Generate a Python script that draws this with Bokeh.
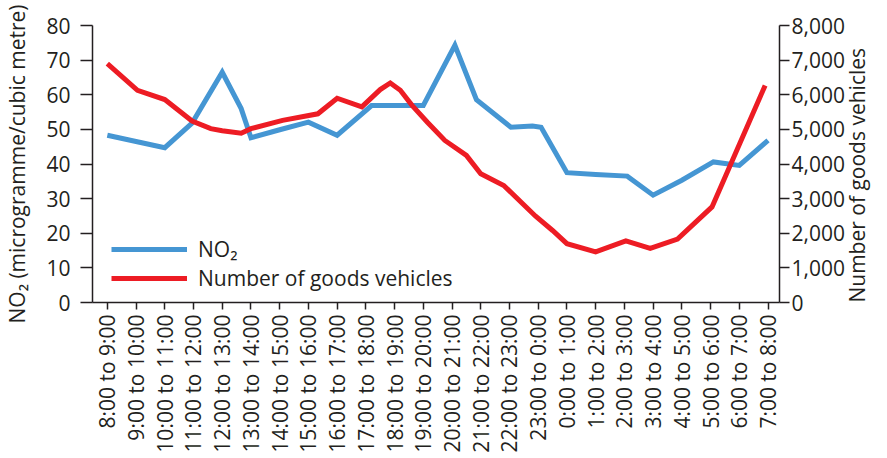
import math
from bokeh.plotting import figure
from bokeh.models import (Range1d, LinearAxis, FixedTicker, NumeralTickFormatter,
                          Legend, LegendItem)
from bokeh.embed import file_html
from bokeh.resources import INLINE

periods = ["8:00 to 9:00", "9:00 to 10:00", "10:00 to 11:00", "11:00 to 12:00",
           "12:00 to 13:00", "13:00 to 14:00", "14:00 to 15:00", "15:00 to 16:00",
           "16:00 to 17:00", "17:00 to 18:00", "18:00 to 19:00", "19:00 to 20:00",
           "20:00 to 21:00", "21:00 to 22:00", "22:00 to 23:00", "23:00 to 0:00",
           "0:00 to 1:00", "1:00 to 2:00", "2:00 to 3:00", "3:00 to 4:00",
           "4:00 to 5:00", "5:00 to 6:00", "6:00 to 7:00", "7:00 to 8:00"]

# NO2 (microgramme / cubic metre); positions in hour-slot index units
no2_pos = [0, 1, 2, 2.95, 4, 4.66, 5, 6, 7, 8, 9.2, 11, 12.1, 12.85, 14.05, 14.8,
           15.1, 16, 17, 18.1, 19, 20, 21.1, 22, 23]
no2_val = [48.3, 46.5, 44.7, 51.8, 66.5, 56.0, 47.6, 49.9, 52.1, 48.3, 56.9, 56.9,
           74.3, 58.6, 50.6, 51.0, 50.6, 37.5, 37.0, 36.5, 31.0, 35.3, 40.6, 39.6, 46.8]

# Number of goods vehicles
goods_pos = [0, 1.05, 2, 2.95, 3.6, 4, 4.66, 5, 6.1, 7.33, 8, 8.86, 9.5, 9.85, 10.2,
             10.6, 11.15, 11.75, 12.5, 13, 13.8, 14.9, 15.5, 16, 17, 18.05, 18.9,
             19.85, 21.05, 22.9]
goods_val = [6900, 6130, 5860, 5240, 5020, 4960, 4890, 5020, 5260, 5450, 5900, 5650,
             6150, 6340, 6130, 5700, 5200, 4680, 4250, 3720, 3380, 2500, 2080, 1700,
             1460, 1780, 1560, 1830, 2760, 6270]

left_ticks = [0, 10, 20, 30, 40, 50, 60, 70, 80]
right_ticks = [0, 1000, 2000, 3000, 4000, 5000, 6000, 7000, 8000]

FONT = "Open Sans"
TXT = "#231f20"
BLUE = "#4596d3"
RED = "#ed1c24"

p = figure(width=887, height=458, output_backend="svg", toolbar_location=None,
           x_range=Range1d(-0.516, 23.4), y_range=Range1d(0, 80),
           min_border_left=90, min_border_right=95, min_border_top=25,
           min_border_bottom=156)
p.extra_y_ranges = {"goods": Range1d(0, 8000)}
p.outline_line_color = None
p.xgrid.visible = False
p.ygrid.visible = False
p.background_fill_color = "white"
p.border_fill_color = "white"

r1 = p.line(no2_pos, no2_val, line_color=BLUE, line_width=5, line_join="miter")
r2 = p.line(goods_pos, goods_val, line_color=RED, line_width=5, line_join="miter",
            y_range_name="goods")

# x axis
xa = p.xaxis[0]
xa.ticker = FixedTicker(ticks=list(range(len(periods))))
xa.major_label_overrides = {i: lab for i, lab in enumerate(periods)}
xa.major_label_orientation = math.pi / 2
xa.major_tick_out = 7
xa.major_tick_in = 0
xa.minor_tick_line_color = None
xa.major_label_standoff = 5

# left axis
ya = p.yaxis[0]
ya.ticker = FixedTicker(ticks=left_ticks)
ya.major_tick_out = 12
ya.major_tick_in = 0
ya.minor_tick_line_color = None
ya.major_label_standoff = 10
ya.axis_label = "NO\u2082 (microgramme/cubic metre)"
ya.axis_label_standoff = 12

# right axis
ra = LinearAxis(y_range_name="goods", ticker=FixedTicker(ticks=right_ticks),
                formatter=NumeralTickFormatter(format="0,0"))
ra.major_tick_out = 10
ra.major_tick_in = 0
ra.minor_tick_line_color = None
ra.major_label_standoff = 2
ra.axis_label = "Number of goods vehicles"
ra.axis_label_standoff = 9
try:
    ra.axis_label_orientation = math.pi / 2
except Exception:
    pass
try:
    ra.axis_label_align = "start"
except Exception:
    pass
p.add_layout(ra, "right")

for ax in (xa, ya, ra):
    ax.axis_line_color = TXT
    ax.axis_line_width = 1.5
    ax.major_tick_line_color = TXT
    ax.major_tick_line_width = 1.5
    ax.major_label_text_font = FONT
    ax.major_label_text_font_size = "21px"
    ax.major_label_text_color = TXT
    ax.axis_label_text_font = FONT
    ax.axis_label_text_font_size = "21px"
    ax.axis_label_text_font_style = "normal"
    ax.axis_label_text_color = TXT

legend = Legend(items=[LegendItem(label="NO\u2082", renderers=[r1]),
                       LegendItem(label="Number of goods vehicles", renderers=[r2])],
                location=(19, 10), padding=10, spacing=1, margin=0,
                glyph_width=76, glyph_height=20, label_standoff=11,
                label_text_font=FONT, label_text_font_size="21px",
                label_text_color=TXT, background_fill_alpha=0,
                border_line_color=None)
p.add_layout(legend)

open("out.html", "w").write(file_html(p, INLINE))
